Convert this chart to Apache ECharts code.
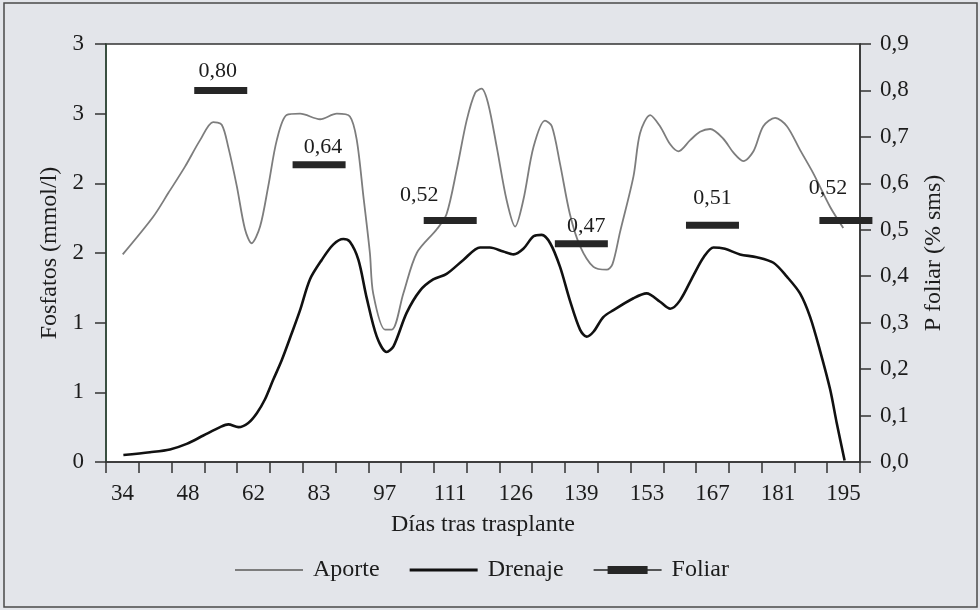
<!DOCTYPE html>
<html>
<head>
<meta charset="utf-8">
<script src="https://cdn.jsdelivr.net/npm/echarts@6/dist/echarts.min.js"></script>
<style>
  html, body { margin: 0; padding: 0; background: #e3e5ea; }
  #chart { width: 980px; height: 610px; }
</style>
</head>
<body>
<div id="chart"></div>
<script>
// ---- Data ----
const categories = ['34','41','48','55','62','72','83','90','97','104','111','118','126','132','139','146','153','160','167','174','181','188','195'];
const leftTickLabels = ['0','1','1','2','2','3','3'];
const rightTickLabels = ['0,0','0,1','0,2','0,3','0,4','0,5','0,6','0,7','0,8','0,9'];

// positions along the category axis (category index units)
const aporteX = [0.01,0.94,1.40,1.91,2.37,2.77,3.03,3.23,3.49,3.74,3.94,4.20,4.45,4.71,5.01,5.42,6.03,6.54,6.94,7.15,7.35,7.55,7.65,8.01,8.22,8.57,8.98,9.59,9.89,10.20,10.50,10.76,10.96,11.16,11.42,11.72,11.98,12.23,12.54,12.89,13.10,13.35,13.65,13.96,14.37,14.77,14.95,15.18,15.59,15.79,16.10,16.40,16.71,16.96,17.32,17.62,17.93,18.33,18.64,18.94,19.25,19.55,19.91,20.27,20.67,21.08,21.59,21.99];
const aporteY = [1.49,1.76,1.93,2.12,2.31,2.44,2.42,2.26,1.98,1.67,1.57,1.69,1.98,2.31,2.49,2.50,2.46,2.50,2.48,2.31,1.91,1.50,1.21,0.95,0.95,1.21,1.50,1.67,1.78,2.10,2.45,2.65,2.68,2.57,2.26,1.88,1.69,1.88,2.26,2.45,2.41,2.14,1.78,1.55,1.40,1.38,1.42,1.65,2.05,2.36,2.49,2.41,2.28,2.23,2.31,2.37,2.39,2.32,2.22,2.16,2.23,2.41,2.47,2.41,2.24,2.07,1.83,1.68];

const drenajeX = [0.03,0.84,1.45,1.96,2.47,2.98,3.23,3.54,3.84,4.10,4.35,4.60,4.86,5.16,5.42,5.72,6.08,6.43,6.74,6.94,7.20,7.45,7.76,8.06,8.27,8.67,9.08,9.48,9.89,10.40,10.91,11.21,11.62,11.93,12.23,12.54,12.79,13.05,13.35,13.65,13.96,14.16,14.37,14.67,14.98,15.59,15.99,16.40,16.71,17.01,17.42,17.73,18.03,18.38,18.84,19.35,19.86,20.27,20.67,20.98,21.28,21.59,21.79,22.03];
const drenajeY = [0.05,0.07,0.09,0.13,0.19,0.25,0.27,0.25,0.28,0.35,0.45,0.59,0.73,0.92,1.09,1.31,1.45,1.56,1.60,1.58,1.45,1.18,0.90,0.79,0.83,1.07,1.23,1.31,1.35,1.45,1.54,1.54,1.51,1.49,1.53,1.62,1.63,1.57,1.40,1.16,0.95,0.90,0.935,1.04,1.09,1.175,1.21,1.15,1.10,1.16,1.34,1.47,1.54,1.53,1.49,1.47,1.43,1.33,1.21,1.04,0.80,0.52,0.28,0.01];

const foliarX = [3, 6, 10, 14, 18, 22.07];
const foliarY = [0.80, 0.64, 0.52, 0.47, 0.51, 0.52];
const foliarLabels = ['0,80','0,64','0,52','0,47','0,51','0,52'];

// ---- Styles (label placement per bar) ----
const foliarLabelOffsets = [[-3,-19],[4,-18],[-31,-25],[5,-17],[0,-27],[-18,-32]];

const FONT = "'Liberation Serif', 'Times New Roman', serif";
const TXT = '#1c1c1c';

const chart = echarts.init(document.getElementById('chart'), null, { renderer: 'canvas' });

const pairs = (xs, ys) => xs.map((x, i) => [x, ys[i]]);

const option = {
  backgroundColor: '#e3e5ea',
  animation: false,
  textStyle: { fontFamily: FONT, color: TXT },
  graphic: [{
    type: 'rect', shape: { x: 4, y: 3, width: 973, height: 604 },
    style: { fill: 'none', stroke: '#4a4a4a', lineWidth: 1.5 }, silent: true, z: -1
  }],
  grid: { left: 106, right: 120, top: 44, bottom: 148, show: true, backgroundColor: '#ffffff', borderColor: '#333', borderWidth: 1.5 },
  legend: {
    left: 230, top: 553,
    itemWidth: 68, itemHeight: 8, itemGap: 30,
    textStyle: { fontFamily: FONT, fontSize: 24, color: TXT, padding: [0, 0, 0, 5] },
    data: [
      { name: 'Aporte', icon: 'path://M0,0h68v1.8H0z' },
      { name: 'Drenaje', icon: 'path://M0,0h68v3H0z' },
      { name: 'Foliar', icon: 'path://M0,3.2h68v1.6H0z M14,0h40v8H14z' }
    ]
  },
  xAxis: [{
    type: 'category',
    data: categories,
    boundaryGap: true,
    name: 'Días tras trasplante',
    nameLocation: 'middle',
    nameGap: 51,
    nameTextStyle: { fontFamily: FONT, fontSize: 24, color: TXT },
    axisLine: { onZero: false, lineStyle: { color: '#333', width: 1.5 } },
    axisTick: { show: true, interval: 0, length: 11, lineStyle: { color: '#333', width: 1.5 } },
    axisLabel: { interval: 1, margin: 20, fontFamily: FONT, fontSize: 23, color: TXT },
    splitLine: { show: false }
  }, {
    type: 'value', min: -0.5, max: 22.5, show: false,
    axisLine: { show: false, onZero: false }, splitLine: { show: false }
  }],
  yAxis: [{
    type: 'value', min: 0, max: 3, interval: 0.5,
    position: 'left',
    name: 'Fosfatos (mmol/l)',
    nameLocation: 'middle', nameRotate: 90, nameGap: 40,
    nameTextStyle: { fontFamily: FONT, fontSize: 24, color: TXT },
    axisLine: { show: true, onZero: false, lineStyle: { color: '#2e4a36', width: 1.5 } },
    axisTick: { show: true, length: 11, lineStyle: { color: '#333', width: 1.5 } },
    axisLabel: { margin: 22, fontFamily: FONT, fontSize: 23, color: TXT,
      formatter: v => leftTickLabels[Math.round(v * 2)] },
    splitLine: { show: false }
  }, {
    type: 'value', min: 0, max: 0.9, interval: 0.1,
    position: 'right',
    name: 'P foliar (% sms)',
    nameLocation: 'middle', nameRotate: 90, nameGap: 62,
    nameTextStyle: { fontFamily: FONT, fontSize: 24, color: TXT },
    axisLine: { show: true, onZero: false, lineStyle: { color: '#333', width: 1.5 } },
    axisTick: { show: true, length: 11, lineStyle: { color: '#333', width: 1.5 } },
    axisLabel: { margin: 20, fontFamily: FONT, fontSize: 23, color: TXT,
      formatter: v => rightTickLabels[Math.round(v * 10)] },
    splitLine: { show: false }
  }],
  series: [{
    name: 'Aporte', type: 'line', xAxisIndex: 1, yAxisIndex: 0,
    data: pairs(aporteX, aporteY),
    symbol: 'none', showSymbol: false, smooth: 0.3,
    lineStyle: { color: '#7d7d7d', width: 1.8 },
    itemStyle: { color: '#7d7d7d' }, z: 3
  }, {
    name: 'Drenaje', type: 'line', xAxisIndex: 1, yAxisIndex: 0,
    data: pairs(drenajeX, drenajeY),
    symbol: 'none', showSymbol: false, smooth: 0.3,
    lineStyle: { color: '#111111', width: 2.6 },
    itemStyle: { color: '#111111' }, z: 2
  }, {
    name: 'Foliar', type: 'scatter', xAxisIndex: 1, yAxisIndex: 1,
    symbol: 'rect', symbolSize: [53, 7], clip: false,
    itemStyle: { color: '#262626', opacity: 1 },
    data: foliarX.map((x, i) => ({
      value: [x, foliarY[i]],
      label: {
        show: true, position: 'inside', offset: foliarLabelOffsets[i],
        formatter: foliarLabels[i], fontFamily: FONT, fontSize: 22, color: TXT
      }
    })),
    z: 4
  }]
};
chart.setOption(option);
</script>
</body>
</html>
